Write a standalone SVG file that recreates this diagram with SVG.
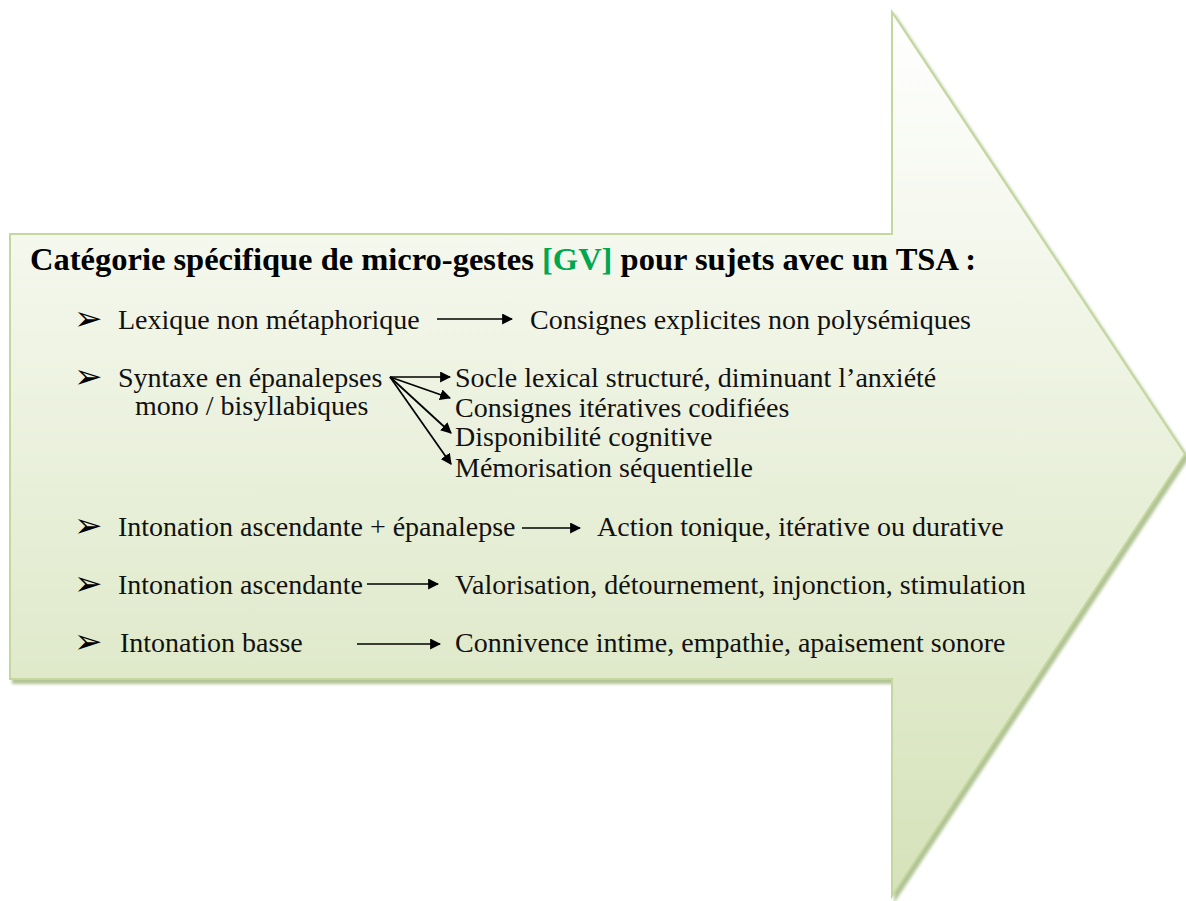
<svg xmlns="http://www.w3.org/2000/svg" width="1186" height="901" viewBox="0 0 1186 901">
<defs>
<linearGradient id="bg" x1="0" y1="0" x2="0" y2="1">
<stop offset="0" stop-color="#ffffff"/>
<stop offset="1" stop-color="#d5e2b9"/>
</linearGradient>
<filter id="sh" x="-5%" y="-5%" width="110%" height="110%">
<feGaussianBlur in="SourceAlpha" stdDeviation="1.5"/>
<feOffset dx="3" dy="4" result="b"/>
<feFlood flood-color="#9fb57a" flood-opacity="0.8"/>
<feComposite in2="b" operator="in"/>
<feMerge><feMergeNode/><feMergeNode in="SourceGraphic"/></feMerge>
</filter>
<marker id="ah" viewBox="0 0 10 10" refX="9" refY="5" markerWidth="11" markerHeight="11" markerUnits="userSpaceOnUse" orient="auto">
<path d="M0,0 L10,5 L0,10 Z" fill="#000"/>
</marker>
<style>
text{font-family:"Liberation Serif","Times New Roman",serif}
.t{font-size:28px;fill:#111}
.h{font-size:32.5px;font-weight:bold;fill:#000}
.b{font-family:"DejaVu Sans",sans-serif;font-size:34px;font-weight:bold;fill:#000}
.c{stroke:#000;stroke-width:1.7;fill:none;marker-end:url(#ah)}
</style>
</defs>
<g id="arrow-shape">
<path d="M10,234 L892,234 L892,12 L1185,454 L892,896 L892,679 L10,679 Z" fill="url(#bg)" stroke="#c4d79e" stroke-width="2" filter="url(#sh)"/>
</g>
<g id="title">
<text class="h" x="30" y="270">Catégorie spécifique de micro-gestes <tspan fill="#00a650">[GV]</tspan> pour sujets avec un TSA :</text>
</g>
<g id="item1">
<text class="b" x="74" y="330">➢</text>
<text class="t" x="118" y="329">Lexique non métaphorique</text>
<text class="t" x="530" y="329">Consignes explicites non polysémiques</text>
</g>
<g id="item2">
<text class="b" x="74" y="388">➢</text>
<text class="t" x="118" y="387">Syntaxe en épanalepses</text>
<text class="t" x="135" y="415">mono / bisyllabiques</text>
<text class="t" x="455" y="387">Socle lexical structuré, diminuant l’anxiété</text>
<text class="t" x="455" y="417">Consignes itératives codifiées</text>
<text class="t" x="455" y="446">Disponibilité cognitive</text>
<text class="t" x="455" y="477">Mémorisation séquentielle</text>
</g>
<g id="item3">
<text class="b" x="74" y="537">➢</text>
<text class="t" x="118" y="536">Intonation ascendante + épanalepse</text>
<text class="t" x="597" y="536">Action tonique, itérative ou durative</text>
</g>
<g id="item4">
<text class="b" x="74" y="595">➢</text>
<text class="t" x="118" y="594">Intonation ascendante</text>
<text class="t" x="455" y="594">Valorisation, détournement, injonction, stimulation</text>
</g>
<g id="item5">
<text class="b" x="74" y="653">➢</text>
<text class="t" x="120" y="652">Intonation basse</text>
<text class="t" x="455" y="652">Connivence intime, empathie, apaisement sonore</text>
</g>
<g id="connectors">
<line class="c" x1="437" y1="319" x2="512" y2="319"/>
<line class="c" x1="390" y1="377" x2="450" y2="377"/>
<line class="c" x1="390" y1="377" x2="450" y2="398"/>
<line class="c" x1="390" y1="377" x2="451" y2="433"/>
<line class="c" x1="390" y1="377" x2="451" y2="464"/>
<line class="c" x1="522" y1="528" x2="580" y2="528"/>
<line class="c" x1="367" y1="584" x2="438" y2="584"/>
<line class="c" x1="357" y1="644" x2="440" y2="644"/>
</g>
</svg>
